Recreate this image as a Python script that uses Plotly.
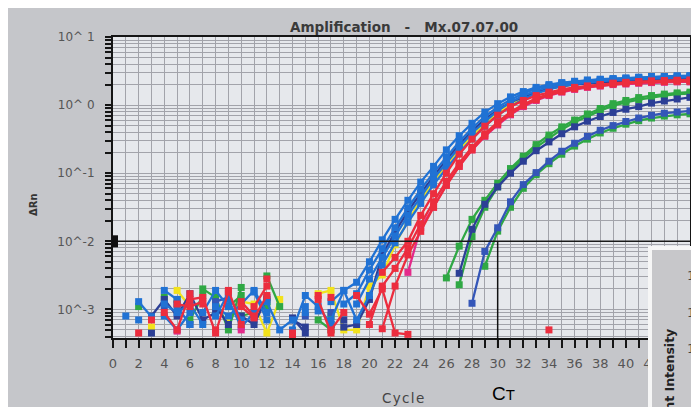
import math
import plotly.graph_objects as go

N = None
cycles = list(range(1, 46))

# ---- series values (ΔRn per cycle 1..45; None = not shown / below zero) ----
b1_blue = [0.0008, N, N, 0.0019, 0.0014, N, 0.0009, 0.0019, 0.0011, N, 0.0018, 0.0007, N, N, 0.0011, N, 0.0007, 0.0019,
           0.0025, 0.005, 0.0105, 0.021, 0.04, 0.074, 0.126, 0.22, 0.355, 0.54, 0.79, 1.05, 1.32, 1.58, 1.82, 2.0,
           2.14, 2.24, 2.34, 2.4, 2.45, 2.5, 2.57, 2.63, 2.63, 2.69, 2.69]
b2_blue = [N, 0.0013, 0.00078, N, 0.0011, 0.0006, N, 0.0008, 0.0017, 0.0007, N, 0.0013, 0.0005, 0.0007, N, 0.00095, N, 0.0012, 0.0017,
           0.0038, 0.0078, 0.0158, 0.031, 0.058, 0.102, 0.174, 0.29, 0.457, 0.68, 0.93, 1.2, 1.48, 1.74, 1.93, 2.09,
           2.19, 2.29, 2.37, 2.43, 2.48, 2.54, 2.6, 2.63, 2.66, 2.69]
b3_blue = [N, N, N, 0.0012, 0.0009, 0.0012, 0.0006, N, 0.0014, 0.00055, 0.0009, N, N, 0.0005, 0.0016, 0.0011, 0.0006, N, 0.0012,
           0.0028, 0.0058, 0.012, 0.024, 0.045, 0.083, 0.141, 0.24, 0.39, 0.575, 0.83, 1.1, 1.38, 1.62, 1.86, 2.02,
           2.14, 2.24, 2.32, 2.37, 2.43, 2.48, 2.54, 2.57, 2.6, 2.63]
b4_navy = [N, N, 0.0008, 0.0014, 0.0008, 0.0017, 0.0007, 0.0009, N, 0.0008, 0.0006, 0.0015, N, 0.00075, 0.00045, N, N, 0.00055, 0.0006, 0.0014,
           0.0063, 0.0138, 0.0275, 0.051, 0.091, 0.158, 0.263, 0.417, 0.617, 0.85, 1.1, 1.32, 1.55, 1.74, 1.9,
           2.0, 2.09, 2.16, 2.21, 2.26, 2.29, 2.34, 2.37, 2.4, 2.4]
b5_blue = [N, 0.0007, N, 0.0008, 0.0005, 0.0009, N, 0.0011, 0.0008, 0.0012, 0.0019, 0.0009, N, N, 0.0009, N, 0.0013, 0.0019, 0.0007, 0.0016,
           0.0045, 0.0095, 0.019, 0.036, 0.068, 0.117, 0.2, 0.32, 0.49, 0.71, 0.95, 1.23, 1.48, 1.7, 1.9,
           2.04, 2.16, 2.24, 2.32, 2.37, 2.43, 2.48, 2.51, 2.54, 2.57]
y1_yellow = [N, N, 0.00055, N, 0.0019, 0.0011, N, N, 0.0007, 0.0013, 0.0012, 0.00045, 0.0014, N, N, 0.0017, 0.0019, 0.0005, 0.0005, 0.0022, 0.0032,
             0.0089, 0.02, 0.04, 0.076, 0.132, 0.224, 0.355, 0.537, 0.76, 1.0, 1.26, 1.51, 1.74, 1.9,
             2.04, 2.14, 2.24, 2.29, 2.34, 2.4, 2.43, 2.45, 2.48, 2.51]
r1_red = [N, 0.00045, N, N, N, 0.0014, 0.0015, 0.00045, 0.0018, N, 0.0011, 0.0022, N, 0.00045, N, 0.0014, 0.00045, N, N, N,
          0.0035, 0.0058, 0.01, 0.024, 0.05, 0.1, 0.19, 0.316, 0.49, 0.71, 0.95, 1.17, 1.38, 1.55, 1.7,
          1.82, 1.9, 2.0, 2.09, 2.14, 2.19, 2.24, 2.26, 2.29, 2.29]
r2_red = [N, N, N, 0.0009, 0.0005, 0.0017, N, 0.0005, N, 0.0011, 0.00075, 0.0016, N, 0.0004, N, 0.0016, N, N, N, N,
          0.00052, 0.0022, 0.0063, 0.014, 0.0316, 0.066, 0.126, 0.22, 0.355, 0.525, 0.74, 0.98, 1.2, 1.41, 1.58,
          1.74, 1.86, 1.95, 2.04, 2.09, 2.14, 2.19, 2.21, 2.24, 2.24]
r3_red = [N, N, 0.0007, N, 0.0012, 0.0011, 0.0013, N, 0.0019, 0.0006, N, 0.0028, N, N, N, N, 0.0005, 0.0009, N, 0.0006, 0.0022,
          0.004, 0.0079, 0.018, 0.038, 0.076, 0.141, 0.24, 0.38, 0.56, 0.79, 1.02, 1.26, 1.45, 1.62,
          1.78, 1.9, 2.0, 2.09, 2.16, 2.21, 2.26, 2.29, 2.32, 2.34]
m1_magenta = [N, N, N, N, 0.00048, N, N, N, N, 0.0005, N, N, N, N, N, N, N, N, N, N, N, N,
              0.0035, 0.016, 0.0316, 0.068, 0.126, 0.22, 0.347, 0.51, 0.72, 0.95, 1.17, 1.38, 1.55,
              1.7, 1.82, 1.9, 2.0, 2.04, 2.09, 2.14, 2.16, 2.19, 2.19]
r4_red_ntc = [N, N, N, N, N, N, 0.0012, N, N, 0.0013, 0.0008, N, N, N, N, N, 0.0015, N, 0.0016, 0.00085,
              0.002, 0.00045, 0.00043, N, N, N, N, N, N, N, N, N, N, 0.0005, N,
              N, N, N, N, N, N, N, N, N, N]
g1_green = [N, 0.0011, N, 0.0015, N, N, 0.002, 0.0015, 0.0005, 0.0021, N, 0.0031, 0.0011, N, N, 0.0007, 0.0005, N, N, N,
            N, N, N, N, N, 0.0029, 0.0085, 0.021, 0.04, 0.071, 0.117, 0.178, 0.263, 0.363, 0.479,
            0.603, 0.741, 0.891, 1.05, 1.17, 1.29, 1.38, 1.45, 1.51, 1.55]
g2_green = [N, N, N, N, 0.0014, N, N, 0.0013, N, 0.0008, 0.0009, 0.0011, N, N, N, N, 0.0008, N, N, N,
            N, N, N, N, N, N, 0.0023, 0.0117, 0.0316, 0.063, 0.107, 0.166, 0.24, 0.33, 0.44,
            0.56, 0.69, 0.83, 0.98, 1.1, 1.2, 1.29, 1.38, 1.45, 1.48]
n1_navy = [N, N, 0.00045, N, 0.0012, N, N, 0.0011, 0.0006, N, N, 0.0014, N, 0.0007, 0.00055, N, N, 0.0007, N, N,
           N, N, N, N, N, N, 0.0034, 0.015, 0.035, 0.063, 0.1, 0.15, 0.214, 0.288, 0.38,
           0.48, 0.58, 0.68, 0.78, 0.87, 0.95, 1.07, 1.15, 1.23, 1.3]
n2_blue = [N, N, N, 0.0011, N, 0.0006, N, 0.0013, 0.0015, N, 0.0007, N, N, N, 0.0008, N, 0.0009, N, N, N,
           N, N, N, N, N, N, N, 0.00123, 0.0071, 0.0158, 0.038, 0.068, 0.102, 0.15, 0.21,
           0.275, 0.347, 0.427, 0.5, 0.575, 0.646, 0.708, 0.76, 0.79, 0.82]
g3_green = [N, N, N, N, N, 0.0007, 0.0016, N, 0.0011, 0.0016, N, 0.0013, N, N, N, N, 0.0006, N, N, N,
            N, N, N, N, N, N, N, N, 0.0043, 0.0141, 0.0316, 0.06, 0.095, 0.138, 0.19,
            0.25, 0.316, 0.39, 0.457, 0.525, 0.59, 0.646, 0.69, 0.72, 0.745]

threshold = 0.01
ct_cycle = 30
x_ticks = list(range(0, 45, 2))
y_tick_vals = [1e-3, 1e-2, 1e-1, 1, 10]
y_tick_text = ["10^-3", "10^-2", "10^-1", "10^ 0", "10^ 1"]
inset_labels = ["14", "12", "10", "8"]

# ---- styles ----
LBLUE, NAVY, MBLUE = "#2072d4", "#2c3f96", "#3456b8"
RED, MAGENTA, GREEN, YELLOW = "#ec2d3e", "#e42a8a", "#2fa844", "#f2e21c"

series = [
    (y1_yellow, YELLOW), (g3_green, GREEN), (g2_green, GREEN), (g1_green, GREEN),
    (n2_blue, MBLUE), (n1_navy, NAVY), (b4_navy, NAVY), (b5_blue, LBLUE), (b3_blue, LBLUE),
    (b2_blue, LBLUE), (b1_blue, LBLUE), (m1_magenta, MAGENTA), (r4_red_ntc, RED),
    (r3_red, RED), (r2_red, RED), (r1_red, RED),
]

# page offset (browser body margin) between figure and screenshot
OFF = 8
W, H = 699, 407
# plot area in screenshot pixels
L_PX, R_PX, T_PX, B_PX = 113, 690, 37, 338
def px(x): return (x - L_PX) / (R_PX - L_PX)
def py(y): return (B_PX - y) / (B_PX - T_PX)

y_range = [-3.42, 1.0]
thr_paper = (math.log10(threshold) - y_range[0]) / (y_range[1] - y_range[0])

fig = go.Figure()
for vals, col in series:
    fig.add_trace(go.Scatter(x=cycles, y=vals, mode="lines+markers",
                             line=dict(color=col, width=2.3),
                             marker=dict(symbol="square", size=7, color=col),
                             connectgaps=False, showlegend=False))
# threshold line
fig.add_trace(go.Scatter(x=[0, 45], y=[threshold, threshold], mode="lines",
                         line=dict(color="#1a1a1a", width=1.6), showlegend=False))

GRID = "#a2a3aa"
TICK = "#151515"
minor_y = [k * 10 ** e for e in range(-4, 1) for k in range(2, 10)]

fig.update_xaxes(range=[0, 45], tickvals=x_ticks, ticks="outside", ticklen=8, tickwidth=2,
                 tickcolor=TICK, showline=True, linecolor=TICK, linewidth=2, mirror=True,
                 showgrid=True, gridcolor=GRID, gridwidth=1, zeroline=False,
                 tickfont=dict(family="DejaVu Sans", size=13, color="#555"), ticklabelstandoff=4,
                 minor=dict(dtick=1, tick0=0, ticks="outside", ticklen=8, tickwidth=2, tickcolor=TICK,
                            showgrid=True, gridcolor=GRID, gridwidth=1))
fig.update_yaxes(type="log", range=y_range, tickvals=y_tick_vals, ticktext=y_tick_text,
                 ticks="outside", ticklen=6, tickwidth=1.5, tickcolor=TICK,
                 showline=True, linecolor=TICK, linewidth=2, mirror=True,
                 showgrid=True, gridcolor=GRID, gridwidth=1, zeroline=False,
                 tickfont=dict(family="DejaVu Sans", size=12, color="#555"), ticklabelstandoff=8,
                 minor=dict(tickvals=minor_y, ticks="outside", ticklen=6, tickwidth=1.5, tickcolor=TICK,
                            showgrid=True, gridcolor=GRID, gridwidth=1))

shapes = [
    # Ct drop line
    dict(type="line", xref="x", yref="paper", x0=ct_cycle, x1=ct_cycle, y0=py(348), y1=thr_paper,
         line=dict(color="#111", width=1.5), layer="above"),
    # threshold marker on axis
    dict(type="rect", xref="paper", yref="paper", x0=px(112), x1=px(118),
         y0=thr_paper - 6 / (B_PX - T_PX), y1=thr_paper + 6 / (B_PX - T_PX),
         fillcolor="#111", line=dict(width=0), layer="above"),
    # overlapping inset panel
    dict(type="rect", xref="paper", yref="paper", x0=px(650), x1=px(730), y0=py(440), y1=py(248),
         fillcolor="#c7c7ca", line=dict(color="#f6f6f6", width=4), layer="above"),
]

ann = [
    dict(x=px(404), y=py(27), text="<b>Amplification   -   Mx.07.07.00</b>",
         font=dict(family="DejaVu Sans", size=13.5, color="#3a3a3a")),
    dict(x=px(33), y=py(205), text="<b>ΔRn</b>", textangle=-90,
         font=dict(family="DejaVu Sans", size=10, color="#333")),
    dict(x=px(403), y=py(398), text="C\u200ay\u200ac\u200al\u200ae",
         font=dict(family="DejaVu Sans", size=13.5, color="#444")),
    dict(x=px(503), y=py(393), text="C<span style='font-size:15px'>T</span>",
         font=dict(family="Liberation Sans", size=19, color="#000")),
    dict(x=px(670), y=py(404), text="<b>Fluorescent Intensity</b>", textangle=-90,
         font=dict(family="DejaVu Sans", size=12.5, color="#222")),
]
for lab, yy in zip(inset_labels, [275, 312, 348, 385]):
    ann.append(dict(x=px(706), y=py(yy), text=lab, xanchor="right",
                    font=dict(family="DejaVu Sans", size=13, color="#444")))
for a in ann:
    a.update(xref="paper", yref="paper", showarrow=False)
    a.setdefault("xanchor", "center")
    a.setdefault("yanchor", "middle")

fig.update_layout(width=W, height=H,
                  margin=dict(l=L_PX - OFF, r=W - (R_PX - OFF), t=T_PX - OFF, b=H - (B_PX - OFF)),
                  paper_bgcolor="#c5c6ca", plot_bgcolor="#e6e8ec", showlegend=False,
                  shapes=shapes, annotations=ann)
fig.write_html("out.html")
